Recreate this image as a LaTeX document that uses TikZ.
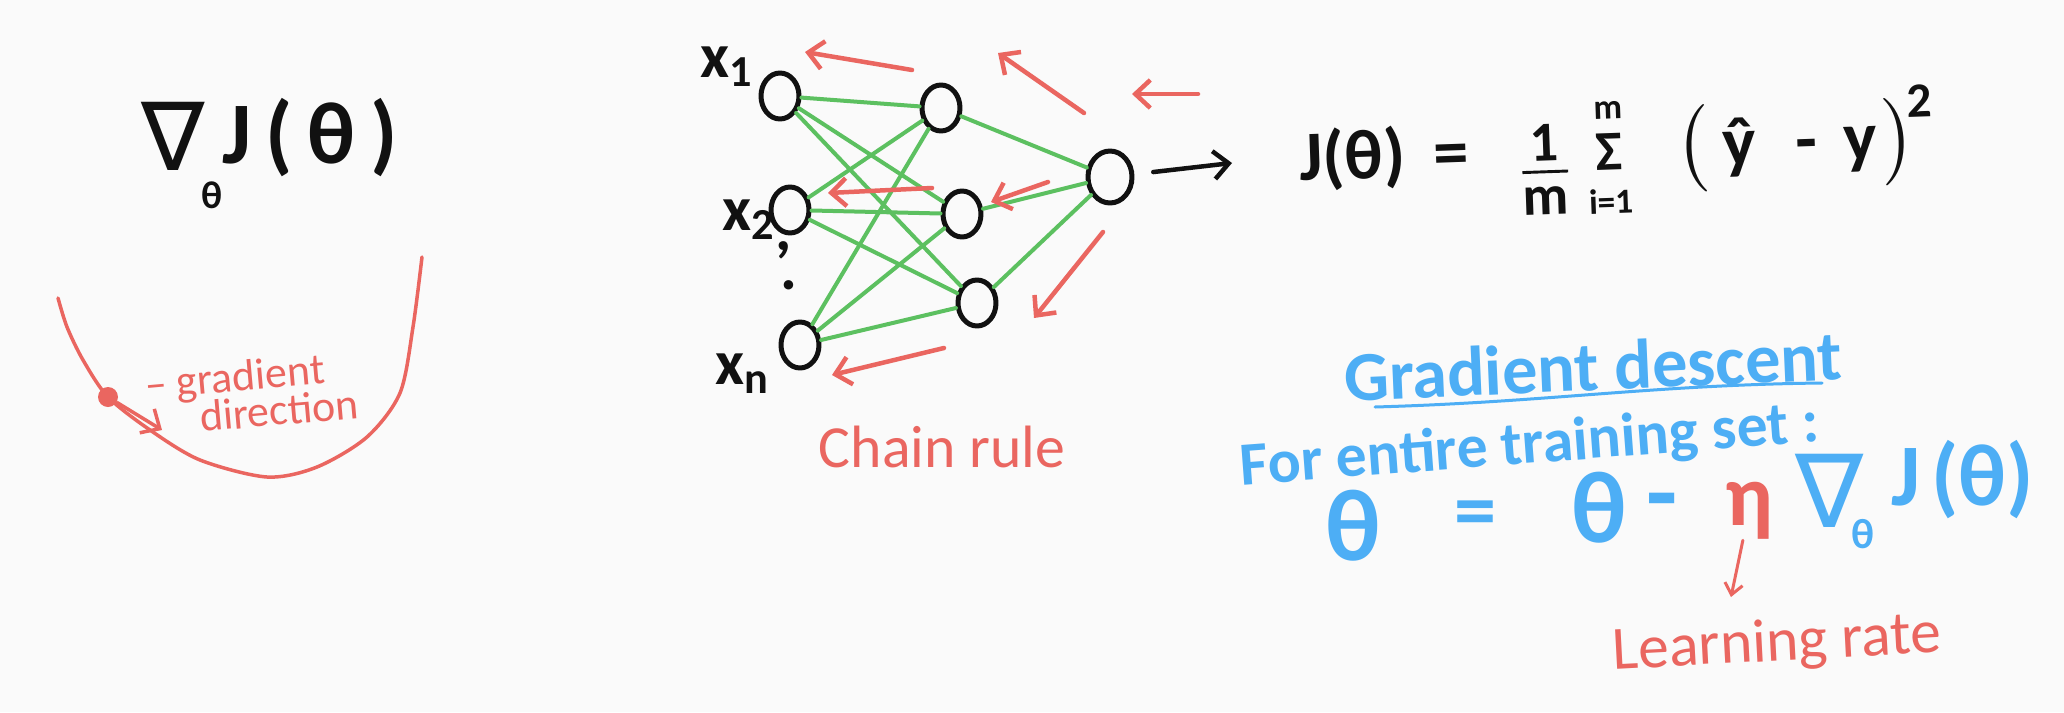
\documentclass[tikz,border=0pt]{standalone}
\usepackage{fontspec}
\usepackage{amsmath}
\usepackage{xcolor}
\setmainfont{Carlito}
\newfontfamily\symfont{DejaVu Sans}
\usetikzlibrary{arrows.meta, positioning, shapes.geometric}
\definecolor{paper}{HTML}{FAFAFA}
\definecolor{penred}{HTML}{EA6660}
\definecolor{penblue}{HTML}{4DAEF5}
\definecolor{pengreen}{HTML}{5CC060}
\definecolor{penblack}{HTML}{111111}
\newcommand{\handsize}[1]{\fontsize{#1}{#1}\selectfont}
\tikzset{
  neuron/.style={ellipse, draw=penblack, line width=0.5mm, minimum width=3.8mm, minimum height=4.6mm, inner sep=0pt},
  link/.style={pengreen, line width=0.4mm},
  back arrow/.style={penred, line width=0.45mm, -{Straight Barb[length=1.5mm, width=2.8mm]}},
  out arrow/.style={penblack, line width=0.45mm, -{Straight Barb[length=1.5mm, width=2.8mm]}},
  bowl/.style={penred, line width=0.35mm},
  ball/.style={circle, fill=penred, minimum size=2mm, inner sep=0pt},
  formula/.style={text=penblack, inner sep=0pt, font=\bfseries\handsize{#1}},
  red note/.style={text=penred, inner sep=0pt, font=\handsize{#1}},
  blue note/.style={text=penblue, inner sep=0pt, font=\bfseries\handsize{#1}}
}

\begin{document}
\begin{tikzpicture}[x=0.1mm, y=-0.1mm, line cap=round, line join=round]
  % --- Paper ---
  \fill[paper] (0,0) rectangle (2064,712);
  \useasboundingbox (0,0) rectangle (2064,712);

  % --- Gradient of the cost and the bowl ---
  \node[formula=27, anchor=base west] (nablaL) at (141,170)
    {{\symfont\mdseries ∇}\kern-1pt\raisebox{-11pt}{\handsize{11}θ}};
  \node[formula=25] (costL) at (310,138) {J\,(\,θ\,)};

  \draw[bowl] plot[smooth] coordinates {(58,298) (67,327) (83,360) (108,397) (150,430)
    (200,460) (267,477) (317,467) (367,437) (400,393) (413,327) (422,257)};
  \node[ball] (ball) at (108,397) {};
  \coordinate (downhill) at (162,430);
  \draw[back arrow, line width=0.35mm] (ball) -- (downhill);
  \node[red note=12.5, rotate=5] (gradtxt) at (235,380) {– gradient};
  \node[red note=12.5, rotate=5] (dirtxt) at (279,410) {direction};

  % --- Network ---
  \node[neuron] (in1) at (780,96) {};
  \node[neuron] (in2) at (790,210) {};
  \node[neuron] (in3) at (800,345) {};
  \node[neuron] (hid1) at (941,108) {};
  \node[neuron] (hid2) at (962,214) {};
  \node[neuron] (hid3) at (977,303) {};
  \node[neuron, minimum width=4.4mm, minimum height=5.2mm] (out) at (1110,177) {};

  \foreach \i in {1,2,3}
    \foreach \j in {1,2,3}
      \draw[link] (in\i) -- (hid\j);
  \foreach \j in {1,2,3}
    \draw[link] (hid\j) -- (out);

  % input labels
  \node[formula=18] (lab1) at (727,67) {x\textsubscript{1}};
  \node[formula=18] (lab2) at (749,220) {x\textsubscript{2}};
  \node[formula=18] (dot1) at (784,250) {,};
  \node[formula=18] (dot2) at (789,285) {.};
  \node[formula=18] (lab3) at (743,374) {x\textsubscript{n}};

  \coordinate (outTip) at (1232,163);
  \draw[out arrow, shorten <=1.9mm] (out) -- (outTip);

  % backward pass
  \foreach \n/\sx/\sy/\ex/\ey in {1/912/70/805/52, 2/1084/113/998/53, 3/1198/94/1132/94,
      4/932/188/828/193, 5/1048/182/991/202, 6/1103/232/1034/318, 7/944/348/832/375} {
    \coordinate (back\n-s) at (\sx,\sy);
    \coordinate (back\n-e) at (\ex,\ey);
    \draw[back arrow] (back\n-s) -- (back\n-e);
  }
  \node[red note=17] (chain) at (942,447) {Chain rule};

  % --- Cost ---
  \node[formula=20, rotate=2, anchor=base west] (cost) at (1300,181)
    {$\text{J(θ)}\hspace{8pt}\text{=}\hspace{14pt}\raisebox{-5pt}{$\tfrac{\text{\handsize{16}1}}{\text{\handsize{16}m}}$}\hspace{1pt}%
      \mathop{\text{\handsize{16}Σ}}\limits_{\text{\handsize{10}i=1}}^{\text{\handsize{10}m}}\hspace{12.7pt}%
      \bigl(\hspace{3.8pt}\text{ŷ}\hspace{11.5pt}\text{-}\hspace{7.4pt}\text{y}\hspace{1.5pt}\bigr)^{\hspace{-2pt}\text{2}}$};

  % --- Gradient descent ---
  \node[blue note=20, rotate=2.5] (title) at (1593,366) {Gradient descent};
  \draw[penblue, line width=0.3mm] (1375,407) .. controls (1550,402) and (1650,385) .. (1822,383);
  \node[blue note=17.5, rotate=4.3] (scope) at (1530,447) {For entire training set :};

  \node[blue note=29] (lhs) at (1353,526) {θ};
  \node[blue note=24] (equals) at (1475,520) {=};
  \node[blue note=29] (theta) at (1599,508) {θ};
  \node[blue note=29] (minus) at (1662,510) {-};
  \node[red note=25] (rate) at (1749,511) {\textbf{η}};
  \node[blue note=29, anchor=base west] (gradR) at (1795,527)
    {{\symfont\mdseries ∇}\kern-3.5pt\raisebox{-6pt}{\handsize{12}θ}};
  \node[blue note=25] (costR) at (1963,480) {J\kern3pt(θ)};

  \coordinate (rateTip) at (1731,597);
  \draw[penred, line width=0.3mm, -{Straight Barb[length=1.1mm, width=1.8mm]}] (rate) -- (rateTip);
  \node[red note=17.5, rotate=3] (lr) at (1777,645) {Learning rate};
\end{tikzpicture}
\end{document}
